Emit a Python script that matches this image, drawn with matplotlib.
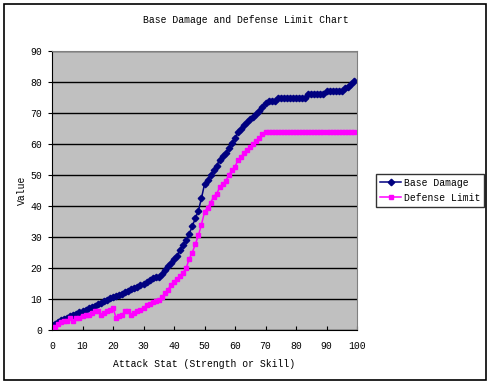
import numpy as np
import matplotlib
matplotlib.use("Agg")
import matplotlib.pyplot as plt
from matplotlib.patches import Rectangle

# attack stat values
attack = list(range(0, 100))

base_damage = [1.5, 2, 2.7, 3.3, 3.7, 4, 4.4, 4.8, 5.2, 5.7,
               6, 6.6, 7, 7.4, 7.8, 8.3, 8.8, 9.3, 9.8, 10.2,
               10.6, 11, 11.3, 11.7, 12.2, 12.7, 13.1, 13.5, 14, 14.5,
               15, 15.6, 16.2, 16.7, 17, 17.2, 18, 19.5, 20.5, 21.5,
               22.8, 24, 25.8, 27.5, 29, 31, 33.5, 36, 38.5, 42.5,
               47, 48.5, 50, 51.5, 53, 55, 56, 57, 58.6, 60.3,
               62, 63.8, 65, 66, 67, 68, 68.8, 69.8, 70.8, 72,
               73.2, 74, 74, 74, 75, 75, 75, 75, 75, 75,
               75, 75, 75, 75, 76, 76, 76, 76, 76, 76,
               77, 77, 77, 77, 77, 77, 78, 78.5, 79.5, 80.3]

defense_limit = [1, 1, 2, 2.5, 3, 3, 4, 3, 4, 4,
                 4.5, 5, 5, 5.5, 6, 6, 5, 5.5, 6, 6.5,
                 7, 4, 4.5, 5, 6, 6, 5, 5.5, 6, 6.5,
                 7, 8, 8.5, 9, 9.5, 9.7, 10.5, 11.8, 13, 14.5,
                 15.5, 16.5, 17.5, 18.5, 20, 23, 25, 27.7, 30.5, 34,
                 38, 39.5, 41, 43, 44, 46, 47, 48.2, 50, 51.6,
                 52.7, 54.8, 55.9, 57, 58.1, 58.9, 60, 61.1, 62, 63.1,
                 64, 64, 64, 64, 64, 64, 64, 64, 64, 64,
                 64, 64, 64, 64, 64, 64, 64, 64, 64, 64,
                 64, 64, 64, 64, 64, 64, 64, 64, 64, 64]

W, H = 491, 384
font = "Liberation Mono"
fs = 7

fig = plt.figure(figsize=(W / 100, H / 100), dpi=100)
fig.patch.set_facecolor("white")
fig.patches.append(Rectangle((4 / W, 4 / H), 482 / W, 376 / H,
                             transform=fig.transFigure, fill=False,
                             edgecolor="black", linewidth=1.2))

ax = fig.add_axes([52 / W, 1 - 330 / H, 305 / W, 279 / H])
ax.set_facecolor("#C0C0C0")

ax.plot(attack, base_damage, color="#000080", marker="D", markersize=3.3,
        linewidth=1.1, label="Base Damage")
ax.plot(attack, defense_limit, color="#FF00FF", marker="s", markersize=3.3,
        linewidth=1.1, label="Defense Limit")

ax.set_xlim(0, 100)
ax.set_ylim(0, 90)
ax.set_xticks(np.arange(0, 101, 10))
ax.set_yticks(np.arange(0, 91, 10))
ax.yaxis.grid(True, color="black", linewidth=1)
ax.set_axisbelow(True)

for side in ["top", "right"]:
    ax.spines[side].set_color("#808080")
for side in ["left", "bottom"]:
    ax.spines[side].set_color("black")

ax.tick_params(axis="x", direction="in", length=3, pad=8)
ax.tick_params(axis="y", direction="out", length=3, pad=4)
for lab in ax.get_xticklabels() + ax.get_yticklabels():
    lab.set_fontfamily(font)
    lab.set_fontsize(fs)

ax.set_xlabel("Attack Stat (Strength or Skill)", fontfamily=font,
              fontsize=fs, labelpad=6)
fig.text(22 / W, 1 - 190 / H, "Value", rotation=90, ha="center",
         va="center", fontfamily=font, fontsize=fs)

fig.text(0.5, 1 - 20 / H, "Base Damage and Defense Limit Chart",
         ha="center", va="center", fontfamily=font, fontsize=fs)

leg = ax.legend(loc="upper left", bbox_to_anchor=(376 / W, 1 - 174 / H),
                bbox_transform=fig.transFigure, prop={"family": font, "size": fs},
                frameon=True, fancybox=False, handlelength=2.2,
                borderpad=0.4, labelspacing=0.5, handletextpad=0.3,
                borderaxespad=0)
leg.get_frame().set_edgecolor("black")
leg.get_frame().set_linewidth(1)

fig.savefig("out.png", dpi=100)
